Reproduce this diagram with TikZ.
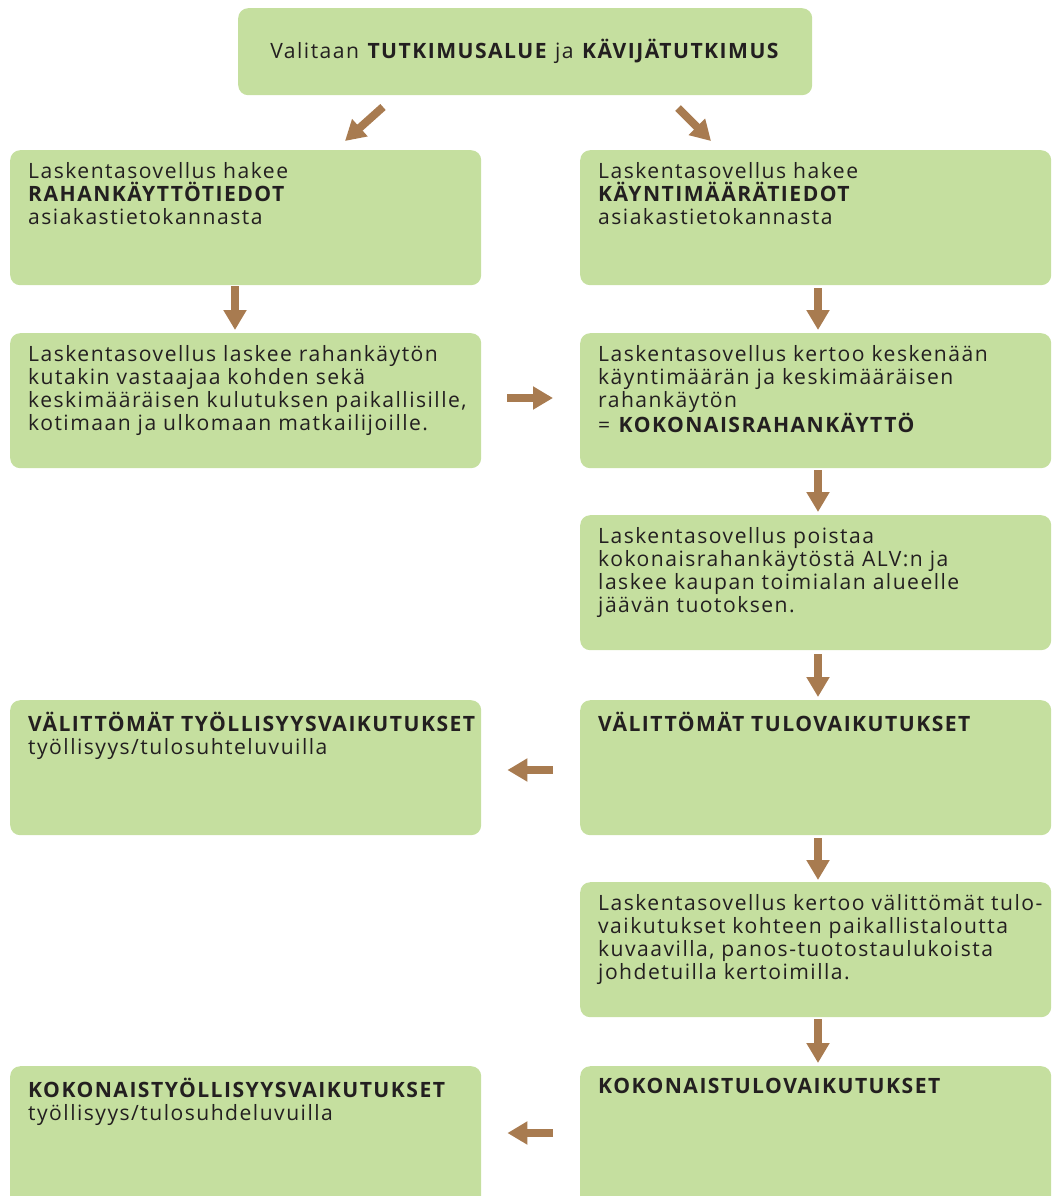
\documentclass[tikz,border=0pt]{standalone}
\usepackage{fontspec}
\setmainfont{Open Sans}[LetterSpace=7]
\usetikzlibrary{arrows.meta}
\definecolor{boxgreen}{RGB}{197,223,159}
\definecolor{arrbrown}{RGB}{168,123,80}
\definecolor{txt}{RGB}{35,31,32}
\begin{document}
\begin{tikzpicture}[x=1pt,y=1pt,
  box/.style={fill=boxgreen,rounded corners=10pt,anchor=north west,inner sep=0pt},
  colbox/.style={box,minimum width=471pt,minimum height=135pt},
  tx/.style={anchor=north west,inner sep=0pt,text=txt,align=left,font=\fontsize{21.1}{23}\selectfont},
  arr/.style={draw=arrbrown,line width=8pt,-{Triangle[width=22pt,length=20pt]}}]
\useasboundingbox (0,0) rectangle (1052,-1196);
\node[box,minimum width=574pt,minimum height=87pt] (top) at (238,-8) {};
\node[text=txt,inner sep=0pt,font=\fontsize{21.1}{23}\selectfont] (topt) at (top.center) {Valitaan \textbf{TUTKIMUSALUE} ja \textbf{KÄVIJÄTUTKIMUS}};
% boxes
\node[colbox] (l1) at (10,-150) {};
\node[colbox] (r1) at (580,-150) {};
\node[colbox] (l2) at (10,-333) {};
\node[colbox] (r2) at (580,-333) {};
\node[colbox] (r3) at (580,-515) {};
\node[colbox] (l4) at (10,-700) {};
\node[colbox] (r4) at (580,-700) {};
\node[colbox] (r5) at (580,-882) {};
\node[colbox,minimum height=140pt] (l6) at (10,-1066) {};
\node[colbox,minimum height=140pt] (r6) at (580,-1066) {};
% texts
\node[tx] (l1t) at ([xshift=18pt,yshift=-12pt]l1.north west) {Laskentasovellus hakee\\\textbf{RAHANKÄYTTÖTIEDOT}\\asiakastietokannasta};
\node[tx] (r1t) at ([xshift=18pt,yshift=-12pt]r1.north west) {Laskentasovellus hakee\\\textbf{KÄYNTIMÄÄRÄTIEDOT}\\asiakastietokannasta};
\node[tx] (l2t) at ([xshift=18pt,yshift=-12pt]l2.north west) {Laskentasovellus laskee rahankäytön\\kutakin vastaajaa kohden sekä\\keskimääräisen kulutuksen paikallisille,\\kotimaan ja ulkomaan matkailijoille.};
\node[tx] (r2t) at ([xshift=18pt,yshift=-12pt]r2.north west) {Laskentasovellus kertoo keskenään\\käyntimäärän ja keskimääräisen\\rahankäytön\\= \textbf{KOKONAISRAHANKÄYTTÖ}};
\node[tx] (r3t) at ([xshift=18pt,yshift=-12pt]r3.north west) {Laskentasovellus poistaa\\kokonaisrahankäytöstä ALV:n ja\\laskee kaupan toimialan alueelle\\jäävän tuotoksen.};
\node[tx] (l4t) at ([xshift=18pt,yshift=-12pt]l4.north west) {\textbf{VÄLITTÖMÄT TYÖLLISYYSVAIKUTUKSET}\\työllisyys/tulosuhteluvuilla};
\node[tx] (r4t) at ([xshift=18pt,yshift=-12pt]r4.north west) {\textbf{VÄLITTÖMÄT TULOVAIKUTUKSET}};
\node[tx] (r5t) at ([xshift=18pt,yshift=-12pt]r5.north west) {Laskentasovellus kertoo välittömät tulo-\\vaikutukset kohteen paikallistaloutta\\kuvaavilla, panos-tuotostaulukoista\\johdetuilla kertoimilla.};
\node[tx] (l6t) at ([xshift=18pt,yshift=-12pt]l6.north west) {\textbf{KOKONAISTYÖLLISYYSVAIKUTUKSET}\\työllisyys/tulosuhdeluvuilla};
\node[tx] (r6t) at ([xshift=18pt,yshift=-12pt]r6.north west) {\textbf{KOKONAISTULOVAIKUTUKSET}};
% arrows
\coordinate (dl1) at (383,-107); \coordinate (dl2) at (345,-141);
\coordinate (dr1) at (678,-108); \coordinate (dr2) at (711,-141);
\draw[arr] (dl1) -- (dl2);
\draw[arr] (dr1) -- (dr2);
\draw[arr,shorten <=1pt,shorten >=3pt] (l1.south -| 235,0) -- (l2.north -| 235,0);
\draw[arr,shorten <=3pt,shorten >=3pt] (r1.south -| 818,0) -- (r2.north -| 818,0);
\draw[arr,shorten <=2pt,shorten >=3pt] (r2.south -| 818,0) -- (r3.north -| 818,0);
\draw[arr,shorten <=4pt,shorten >=3pt] (r3.south -| 818,0) -- (r4.north -| 818,0);
\draw[arr,shorten <=3pt,shorten >=2pt] (r4.south -| 818,0) -- (r5.north -| 818,0);
\draw[arr,shorten <=2pt,shorten >=3pt] (r5.south -| 818,0) -- (r6.north -| 818,0);
\draw[arr,shorten <=26pt,shorten >=27pt] (l2.east |- 0,-398) -- (r2.west |- 0,-398);
\draw[arr,shorten <=27pt,shorten >=26pt] (r4.west |- 0,-770) -- (l4.east |- 0,-770);
\draw[arr,shorten <=27pt,shorten >=26pt] (r6.west |- 0,-1133) -- (l6.east |- 0,-1133);
\end{tikzpicture}
\end{document}
